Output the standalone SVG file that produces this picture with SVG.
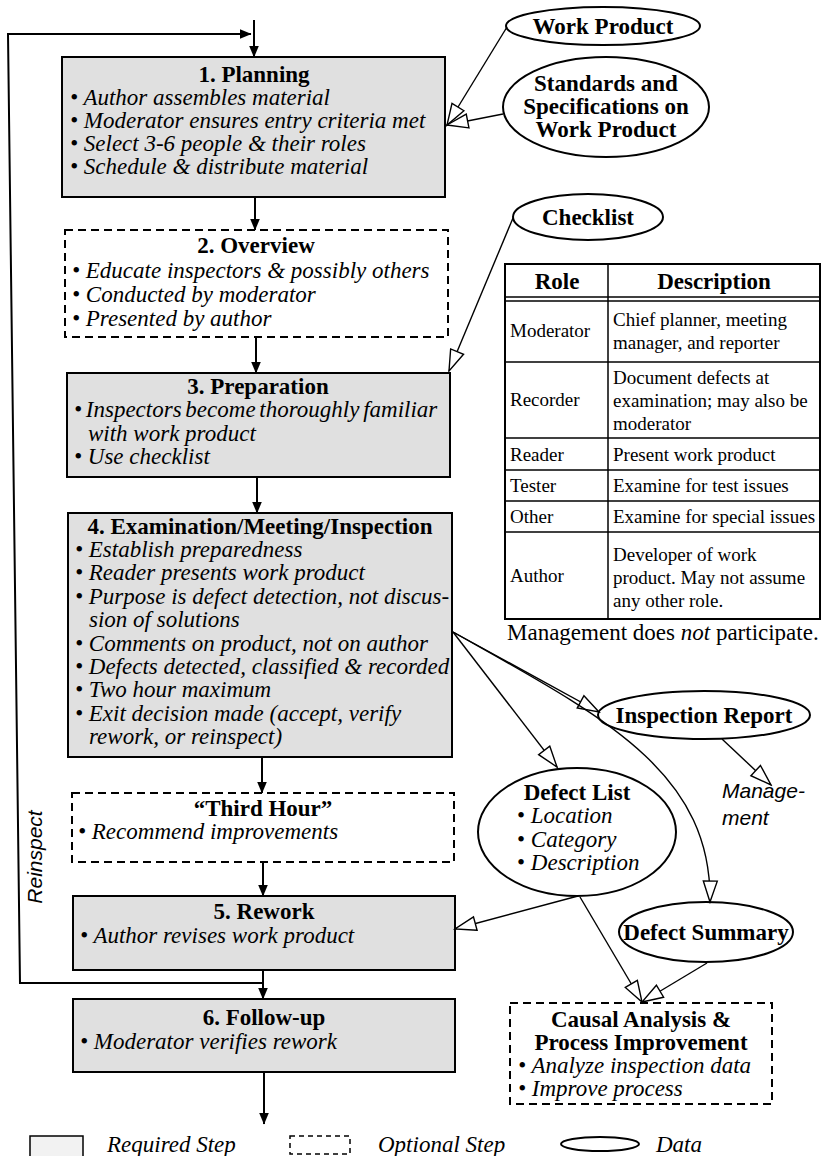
<svg xmlns="http://www.w3.org/2000/svg" width="823" height="1156" viewBox="0 0 823 1156">
<defs>
<marker id="solid" markerUnits="userSpaceOnUse" viewBox="0 0 12 10" markerWidth="12" markerHeight="10" refX="11.5" refY="5" orient="auto"><path d="M0,0 L12,5 L0,10 z" fill="#000"/></marker>
<marker id="open" markerUnits="userSpaceOnUse" viewBox="-2 -2 25 18" markerWidth="25" markerHeight="18" refX="21" refY="7" orient="auto"><path d="M0,0 L21,7 L0,14 z" fill="#fff" stroke="#000" stroke-width="1.4"/></marker>
</defs>
<style>
.req{fill:#e0e0e0;stroke:#000;stroke-width:2}
.opt{fill:#fff;stroke:#000;stroke-width:2;stroke-dasharray:8 5}
.data{fill:#fff;stroke:#000;stroke-width:2}
.t{font-family:"Liberation Serif","Times New Roman",serif;font-size:23px;fill:#000}
.b{font-weight:bold}
.i{font-style:italic}
.c{text-anchor:middle}
.tab{font-family:"Liberation Serif","Times New Roman",serif;font-size:19px;fill:#000}
.sans{font-family:"Liberation Sans",Arial,sans-serif;font-style:italic;font-size:21px;fill:#000}
.flow{stroke:#000;stroke-width:2;fill:none;marker-end:url(#solid)}
.thin{stroke:#000;stroke-width:1.4;fill:none;marker-end:url(#open)}
.grid{stroke:#000;stroke-width:1.5;fill:none}
</style>

<g id="planning">
<rect class="req" x="62" y="57" width="383" height="140"/>
<text class="t b c" x="254" y="82">1. Planning</text>
<text class="t i" x="70" y="105">• Author assembles material</text>
<text class="t i" x="70" y="128">• Moderator ensures entry criteria met</text>
<text class="t i" x="70" y="151">• Select 3-6 people &amp; their roles</text>
<text class="t i" x="70" y="174">• Schedule &amp; distribute material</text>
</g>

<g id="overview">
<rect class="opt" x="65" y="230" width="383" height="107"/>
<text class="t b c" x="256" y="253">2. Overview</text>
<text class="t i" x="72" y="278">• Educate inspectors &amp; possibly others</text>
<text class="t i" x="72" y="302">• Conducted by moderator</text>
<text class="t i" x="72" y="326">• Presented by author</text>
</g>

<g id="preparation">
<rect class="req" x="67" y="373" width="383" height="104"/>
<text class="t b c" x="258" y="394">3. Preparation</text>
<text class="t i" x="74" y="417" word-spacing="-2">• Inspectors become thoroughly familiar</text>
<text class="t i" x="88" y="441">with work product</text>
<text class="t i" x="74" y="464">• Use checklist</text>
</g>

<g id="examination">
<rect class="req" x="68" y="513" width="384" height="244"/>
<text class="t b c" x="260" y="534">4. Examination/Meeting/Inspection</text>
<text class="t i" x="75" y="557">• Establish preparedness</text>
<text class="t i" x="75" y="580">• Reader presents work product</text>
<text class="t i" x="75" y="604">• Purpose is defect detection, not discus-</text>
<text class="t i" x="89" y="627">sion of solutions</text>
<text class="t i" x="75" y="651">• Comments on product, not on author</text>
<text class="t i" x="75" y="674">• Defects detected, classified &amp; recorded</text>
<text class="t i" x="75" y="697">• Two hour maximum</text>
<text class="t i" x="75" y="721">• Exit decision made (accept, verify</text>
<text class="t i" x="89" y="744">rework, or reinspect)</text>
</g>

<g id="thirdhour">
<rect class="opt" x="72" y="793" width="382" height="69"/>
<text class="t b c" x="263" y="816">“Third Hour”</text>
<text class="t i" x="78" y="839">• Recommend improvements</text>
</g>

<g id="rework">
<rect class="req" x="73" y="896" width="382" height="74"/>
<text class="t b c" x="264" y="919">5. Rework</text>
<text class="t i" x="80" y="943">• Author revises work product</text>
</g>

<g id="followup">
<rect class="req" x="73" y="999" width="382" height="73"/>
<text class="t b c" x="264" y="1025">6. Follow-up</text>
<text class="t i" x="80" y="1049">• Moderator verifies rework</text>
</g>

<g id="workproduct">
<ellipse class="data" cx="603" cy="26" rx="97" ry="19"/>
<text class="t b c" x="603" y="34">Work Product</text>
</g>

<g id="standards">
<ellipse class="data" cx="606" cy="107" rx="103" ry="50"/>
<text class="t b c" x="606" y="91">Standards and</text>
<text class="t b c" x="606" y="114">Specifications on</text>
<text class="t b c" x="606" y="137">Work Product</text>
</g>

<g id="checklist">
<ellipse class="data" cx="588" cy="217" rx="75" ry="23"/>
<text class="t b c" x="588" y="225">Checklist</text>
</g>

<g id="roles">
<rect x="505" y="264" width="315" height="355" fill="#fff" stroke="#000" stroke-width="2"/>
<line class="grid" x1="608" y1="264" x2="608" y2="619"/>
<line class="grid" x1="505" y1="297" x2="820" y2="297"/>
<line class="grid" x1="505" y1="301" x2="820" y2="301"/>
<line class="grid" x1="505" y1="362" x2="820" y2="362"/>
<line class="grid" x1="505" y1="438" x2="820" y2="438"/>
<line class="grid" x1="505" y1="470" x2="820" y2="470"/>
<line class="grid" x1="505" y1="501" x2="820" y2="501"/>
<line class="grid" x1="505" y1="532" x2="820" y2="532"/>
<text class="t b c" x="557" y="289">Role</text>
<text class="t b c" x="714" y="289">Description</text>
<text class="tab" x="510" y="337">Moderator</text>
<text class="tab" x="613" y="326">Chief planner, meeting</text>
<text class="tab" x="613" y="349">manager, and reporter</text>
<text class="tab" x="510" y="406">Recorder</text>
<text class="tab" x="613" y="384">Document defects at</text>
<text class="tab" x="613" y="407">examination; may also be</text>
<text class="tab" x="613" y="430">moderator</text>
<text class="tab" x="510" y="461">Reader</text>
<text class="tab" x="613" y="461">Present work product</text>
<text class="tab" x="510" y="492">Tester</text>
<text class="tab" x="613" y="492">Examine for test issues</text>
<text class="tab" x="510" y="523">Other</text>
<text class="tab" x="613" y="523">Examine for special issues</text>
<text class="tab" x="510" y="582">Author</text>
<text class="tab" x="613" y="561">Developer of work</text>
<text class="tab" x="613" y="584">product. May not assume</text>
<text class="tab" x="613" y="607">any other role.</text>
<text class="t" x="507" y="640">Management does <tspan class="i">not</tspan> participate.</text>
</g>

<g id="inspectionreport">
<ellipse class="data" cx="704" cy="715" rx="106" ry="24"/>
<text class="t b c" x="704" y="723">Inspection Report</text>
</g>

<g id="management">
<text class="sans" x="722" y="798">Manage-</text>
<text class="sans" x="722" y="825">ment</text>
</g>

<g id="defectlist">
<ellipse class="data" cx="577" cy="832" rx="99" ry="64"/>
<text class="t b c" x="577" y="800">Defect List</text>
<text class="t" x="517" y="823">• <tspan class="i">Location</tspan></text>
<text class="t" x="517" y="847">• <tspan class="i">Category</tspan></text>
<text class="t" x="517" y="870">• <tspan class="i">Description</tspan></text>
</g>

<g id="defectsummary">
<ellipse class="data" cx="706" cy="932" rx="87" ry="30"/>
<text class="t b c" x="706" y="940">Defect Summary</text>
</g>

<g id="causal">
<rect class="opt" x="510" y="1003" width="262" height="101"/>
<text class="t b c" x="641" y="1027">Causal Analysis &amp;</text>
<text class="t b c" x="641" y="1050">Process Improvement</text>
<text class="t i" x="518" y="1073">• Analyze inspection data</text>
<text class="t i" x="518" y="1096">• Improve process</text>
</g>

<g id="reinspect">
<text class="sans c" font-size="22" transform="translate(42,857) rotate(-90)">Reinspect</text>
</g>

<g id="connectors">
<path class="flow" d="M254,20 V57"/>
<path class="flow" d="M263,983 H20 L8,34 H251"/>
<path class="flow" d="M255,197 V230"/>
<path class="flow" d="M256,337 V373"/>
<path class="flow" d="M257,477 V513"/>
<path class="flow" d="M262,757 V793"/>
<path class="flow" d="M263,862 V896"/>
<path class="flow" d="M263,970 V999"/>
<path class="flow" d="M264,1072 V1124"/>
<path class="thin" d="M507,27 L447,125"/>
<path class="thin" d="M503,114 L447,125"/>
<path class="thin" d="M513,218 L449,371"/>
<path class="thin" d="M453,632 L599,712"/>
<path class="thin" d="M453,632 L557,767"/>
<path class="thin" d="M453,632 C600,715 712,770 710,902"/>
<path class="thin" d="M722,739 L771,785"/>
<path class="thin" d="M578,896 L455,929"/>
<path class="thin" d="M580,897 L642,1002"/>
<path class="thin" d="M707,963 L642,1002"/>
</g>

<g id="legend">
<rect x="30" y="1136" width="53" height="30" fill="#f2f2f2" stroke="#000" stroke-width="1.5"/>
<text class="t i" x="107" y="1152">Required Step</text>
<rect x="290" y="1136" width="60" height="18" fill="none" stroke="#000" stroke-width="1.5" stroke-dasharray="5 4"/>
<text class="t i" x="378" y="1152">Optional Step</text>
<ellipse cx="600" cy="1144" rx="39" ry="7" fill="none" stroke="#000" stroke-width="2"/>
<text class="t i" x="656" y="1152">Data</text>
</g>
</svg>
